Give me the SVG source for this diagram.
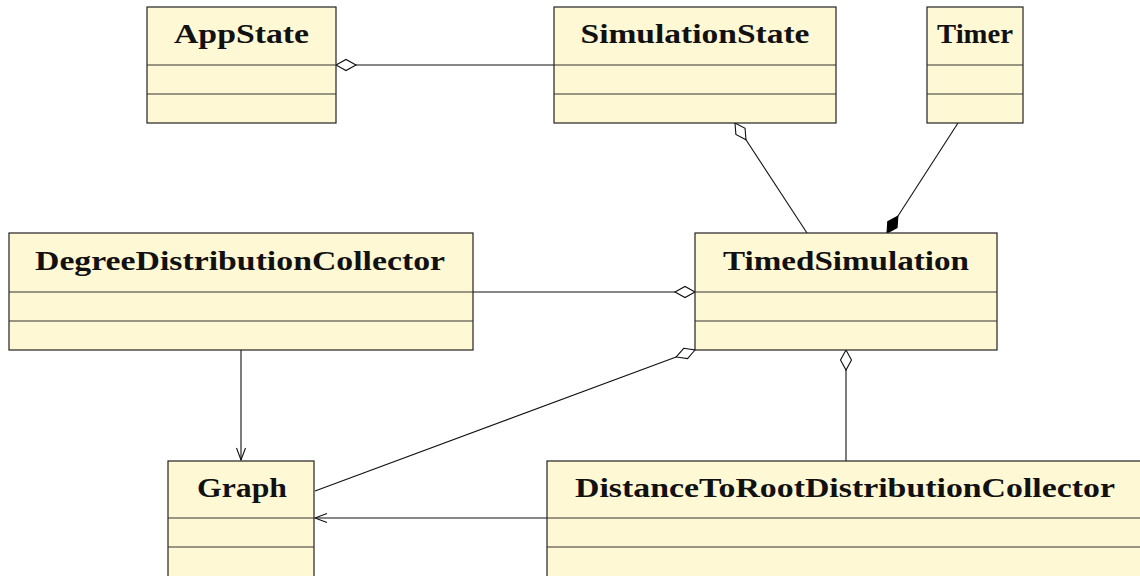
<svg xmlns="http://www.w3.org/2000/svg" width="1140" height="576" viewBox="0 0 1140 576">
<style>
.box{fill:#FFF8D5;stroke:#222;stroke-width:1.2}
.div{stroke:#333;stroke-width:1.2}
.t{font-family:"Liberation Serif","DejaVu Serif",serif;font-weight:bold;font-size:27px;fill:#111;text-anchor:middle}
.c{stroke:#111;stroke-width:1.1;fill:none}
</style>
<defs>
<marker id="hd" markerUnits="userSpaceOnUse" markerWidth="24" markerHeight="14" viewBox="-1 -7 23 14" refX="0" refY="0" orient="auto"><path d="M0,0 L10,-5.5 L20,0 L10,5.5 Z" fill="#fff" stroke="#111" stroke-width="1.1"/></marker>
<marker id="fd" markerUnits="userSpaceOnUse" markerWidth="24" markerHeight="14" viewBox="-1 -7 23 14" refX="0" refY="0" orient="auto"><path d="M0,0 L10,-5.5 L20,0 L10,5.5 Z" fill="#000" stroke="#000" stroke-width="1.1"/></marker>
<marker id="oa" markerUnits="userSpaceOnUse" markerWidth="16" markerHeight="12" viewBox="-13 -6 15 12" refX="0" refY="0" orient="auto"><path d="M-12,-4.5 L0,0 L-12,4.5" fill="none" stroke="#111" stroke-width="1.1"/></marker>
</defs>
<g id="connectors">
<path class="c" d="M336,65 L555,65" marker-start="url(#hd)"/>
<path class="c" d="M735,123 L807,233" marker-start="url(#hd)"/>
<path class="c" d="M887,233 L958,123" marker-start="url(#fd)"/>
<path class="c" d="M695,292 L473,292" marker-start="url(#hd)"/>
<path class="c" d="M695,350 L315,491" marker-start="url(#hd)"/>
<path class="c" d="M846,350 L846,461" marker-start="url(#hd)"/>
<path class="c" d="M241,350 L241,460" marker-end="url(#oa)"/>
<path class="c" d="M547,518 L315,518" marker-end="url(#oa)"/>
</g>
<g id="AppState">
<rect class="box" x="147" y="7" width="189" height="116"/>
<line class="div" x1="147" y1="65" x2="336" y2="65"/><line class="div" x1="147" y1="94" x2="336" y2="94"/>
<text class="t" x="241.5" y="43" textLength="135" lengthAdjust="spacingAndGlyphs">AppState</text>
</g>
<g id="SimulationState">
<rect class="box" x="554" y="7" width="282" height="116"/>
<line class="div" x1="554" y1="65" x2="836" y2="65"/><line class="div" x1="554" y1="94" x2="836" y2="94"/>
<text class="t" x="695" y="43" textLength="229" lengthAdjust="spacingAndGlyphs">SimulationState</text>
</g>
<g id="Timer">
<rect class="box" x="927" y="7" width="96" height="116"/>
<line class="div" x1="927" y1="65" x2="1023" y2="65"/><line class="div" x1="927" y1="94" x2="1023" y2="94"/>
<text class="t" x="975" y="43" textLength="76" lengthAdjust="spacingAndGlyphs">Timer</text>
</g>
<g id="DegreeDistributionCollector">
<rect class="box" x="9" y="233" width="464" height="117"/>
<line class="div" x1="9" y1="292" x2="473" y2="292"/><line class="div" x1="9" y1="321" x2="473" y2="321"/>
<text class="t" x="240" y="270" textLength="410" lengthAdjust="spacingAndGlyphs">DegreeDistributionCollector</text>
</g>
<g id="TimedSimulation">
<rect class="box" x="695" y="233" width="302" height="117"/>
<line class="div" x1="695" y1="292" x2="997" y2="292"/><line class="div" x1="695" y1="321" x2="997" y2="321"/>
<text class="t" x="846" y="270" textLength="246" lengthAdjust="spacingAndGlyphs">TimedSimulation</text>
</g>
<g id="Graph">
<rect class="box" x="168" y="461" width="146" height="117"/>
<line class="div" x1="168" y1="518" x2="314" y2="518"/><line class="div" x1="168" y1="547" x2="314" y2="547"/>
<text class="t" x="242" y="497" textLength="90" lengthAdjust="spacingAndGlyphs">Graph</text>
</g>
<g id="DistanceToRootDistributionCollector">
<rect class="box" x="547" y="461" width="620" height="117"/>
<line class="div" x1="547" y1="518" x2="1167" y2="518"/><line class="div" x1="547" y1="547" x2="1167" y2="547"/>
<text class="t" x="845" y="497" textLength="540" lengthAdjust="spacingAndGlyphs">DistanceToRootDistributionCollector</text>
</g>
</svg>
